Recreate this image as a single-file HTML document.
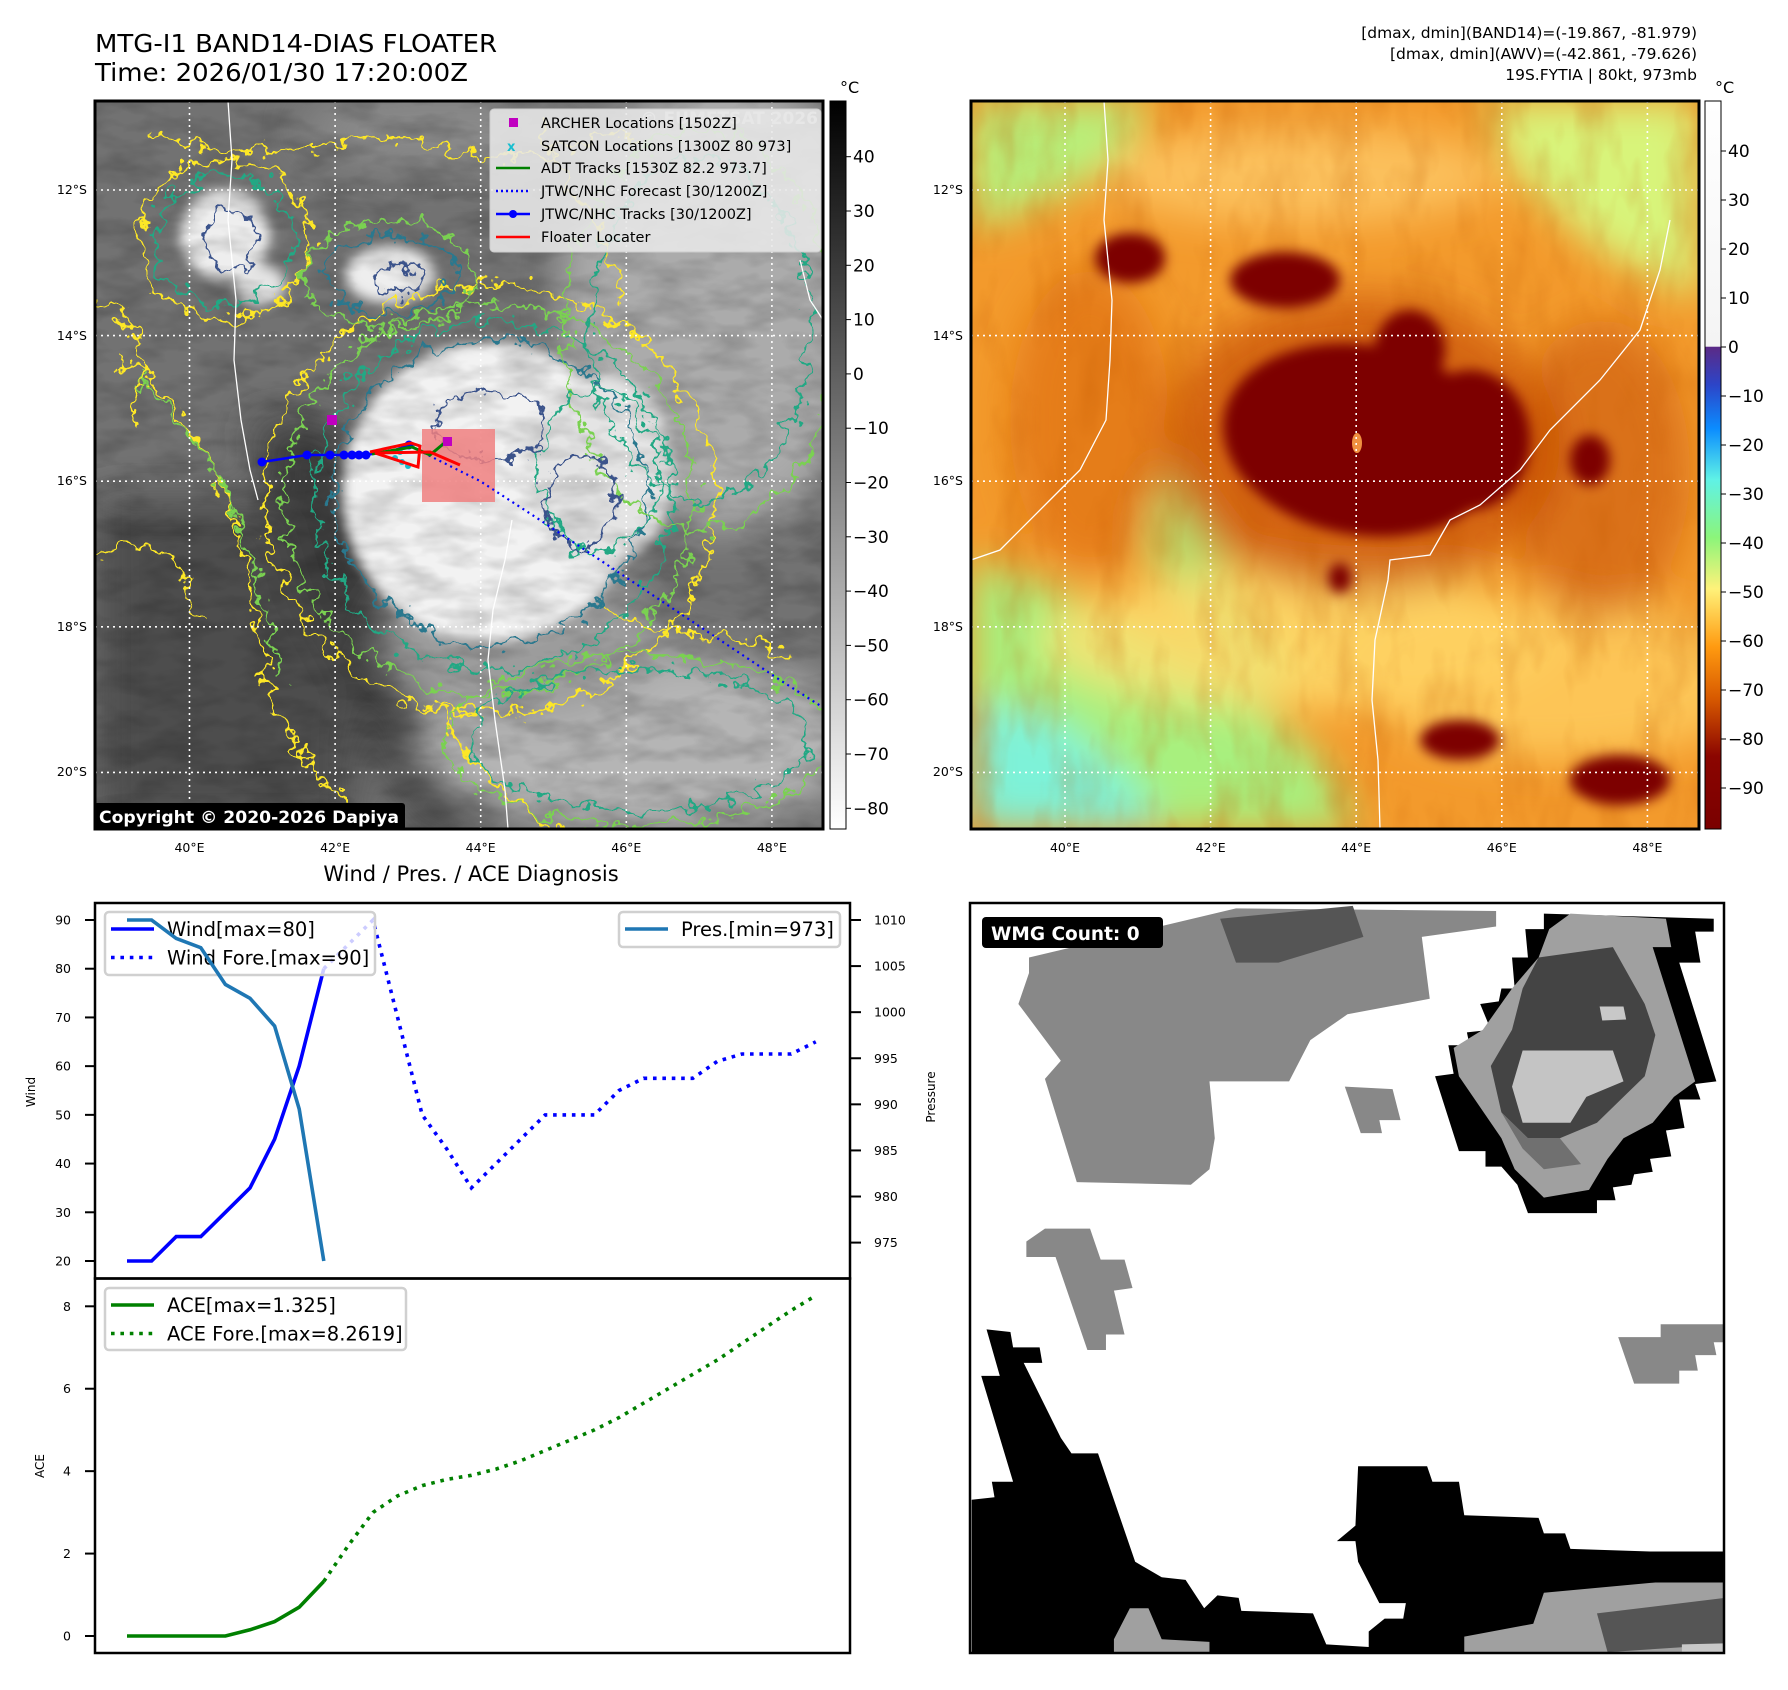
<!DOCTYPE html>
<html><head><meta charset="utf-8"><title>MTG-I1 BAND14-DIAS FLOATER</title>
<style>
html,body{margin:0;padding:0;background:#fff;}
svg{display:block;font-family:"DejaVu Sans","Liberation Sans",sans-serif;}
</style></head>
<body>
<svg id="fig" width="1788" height="1690" viewBox="0 0 1788 1690" xmlns="http://www.w3.org/2000/svg">
<defs>
  <filter id="blur6"><feGaussianBlur stdDeviation="6"/></filter>
  <filter id="blur12"><feGaussianBlur stdDeviation="12"/></filter>
  <filter id="blur20"><feGaussianBlur stdDeviation="20"/></filter>
  <filter id="wiggle"><feTurbulence type="fractalNoise" baseFrequency="0.06" numOctaves="3" seed="3" result="n"/><feDisplacementMap in="SourceGraphic" in2="n" scale="34" xChannelSelector="R" yChannelSelector="G"/></filter>
  <filter id="wiggle2"><feTurbulence type="fractalNoise" baseFrequency="0.07" numOctaves="3" seed="9" result="n"/><feDisplacementMap in="SourceGraphic" in2="n" scale="26" xChannelSelector="R" yChannelSelector="G"/></filter>
  <filter id="texture"><feTurbulence type="fractalNoise" baseFrequency="0.02 0.05" numOctaves="3" seed="5"/><feColorMatrix type="matrix" values="0 0 0 0 0  0 0 0 0 0  0 0 0 0 0  0 0 0 -1.2 0.75"/></filter>
  <filter id="texture2"><feTurbulence type="fractalNoise" baseFrequency="0.03 0.012" numOctaves="3" seed="11"/><feColorMatrix type="matrix" values="0 0 0 0 0.55  0 0 0 0 0.1  0 0 0 0 0  0 0 0 -1.6 0.9"/></filter>
  <linearGradient id="cb1" x1="0" y1="0" x2="0" y2="1"><stop offset="0" stop-color="#000"/><stop offset="1" stop-color="#fff"/></linearGradient>
  <linearGradient id="cb2" x1="0" y1="0" x2="0" y2="1">
    <stop offset="0" stop-color="#ffffff"/><stop offset="0.337" stop-color="#f4f4f4"/>
    <stop offset="0.338" stop-color="#5b2a86"/><stop offset="0.39" stop-color="#2c45c8"/>
    <stop offset="0.45" stop-color="#0b8cff"/><stop offset="0.52" stop-color="#5ff2e6"/>
    <stop offset="0.6" stop-color="#8cf57a"/><stop offset="0.67" stop-color="#fff27a"/>
    <stop offset="0.75" stop-color="#ff9a10"/><stop offset="0.82" stop-color="#d85a00"/>
    <stop offset="0.9" stop-color="#8b0500"/><stop offset="1" stop-color="#7a0000"/>
  </linearGradient>
  <clipPath id="clipL"><rect x="95" y="101" width="728" height="728"/></clipPath>
  <clipPath id="clipR"><rect x="971" y="101" width="728" height="728"/></clipPath>
  <clipPath id="clipW"><rect x="970" y="903" width="754" height="750"/></clipPath>
</defs>

<text x="95" y="52" font-size="25" textLength="402" lengthAdjust="spacingAndGlyphs">MTG-I1 BAND14-DIAS FLOATER</text>
<text x="95" y="81" font-size="25" textLength="373" lengthAdjust="spacingAndGlyphs">Time: 2026/01/30 17:20:00Z</text>
<g font-size="15.5" text-anchor="end">
  <text x="1697" y="38">[dmax, dmin](BAND14)=(-19.867, -81.979)</text>
  <text x="1697" y="59">[dmax, dmin](AWV)=(-42.861, -79.626)</text>
  <text x="1697" y="80">19S.FYTIA | 80kt, 973mb</text>
</g>

<!-- LEFT MAP -->
<g clip-path="url(#clipL)">
  <rect x="95" y="101" width="728" height="728" fill="#727272"/>
  <g filter="url(#blur20)">
    <rect x="95" y="500" width="260" height="329" fill="#4e4e4e"/>
    <polygon points="250,420 330,420 520,700 560,829 420,829 300,600" fill="#3c3c3c"/>
    <ellipse cx="720" cy="300" rx="160" ry="230" fill="#ababab"/>
    <ellipse cx="640" cy="740" rx="220" ry="90" fill="#b5b5b5"/>
    <ellipse cx="520" cy="640" rx="140" ry="80" fill="#9c9c9c"/>
    <ellipse cx="440" cy="130" rx="140" ry="40" fill="#8a8a8a"/>
  </g>
  <g filter="url(#blur6)">
    <ellipse cx="490" cy="492" rx="148" ry="150" fill="#f2f2f2"/>
    <ellipse cx="600" cy="470" rx="75" ry="95" fill="#e4e4e4"/>
    <ellipse cx="225" cy="235" rx="45" ry="45" fill="#eeeeee"/>
    <ellipse cx="390" cy="275" rx="45" ry="28" fill="#eeeeee"/>
    <ellipse cx="260" cy="285" rx="25" ry="20" fill="#e4e4e4"/>
  </g>
  <rect x="95" y="101" width="728" height="728" filter="url(#texture)" opacity="0.3"/>
  <g fill="none" filter="url(#wiggle)">
    <ellipse cx="490" cy="500" rx="225" ry="215" stroke="#fde725" stroke-width="2.5"/>
    <ellipse cx="490" cy="498" rx="205" ry="195" stroke="#7ad151" stroke-width="2.5"/>
    <ellipse cx="492" cy="495" rx="180" ry="175" stroke="#22a884" stroke-width="2.5"/>
    <ellipse cx="490" cy="492" rx="155" ry="152" stroke="#2a788e" stroke-width="2.5"/>
    <ellipse cx="225" cy="240" rx="70" ry="65" stroke="#22a884" stroke-width="2.5"/>
    <ellipse cx="225" cy="240" rx="85" ry="80" stroke="#fde725" stroke-width="2.5"/>
    <ellipse cx="390" cy="275" rx="65" ry="40" stroke="#2a788e" stroke-width="2.5"/>
    <ellipse cx="390" cy="275" rx="85" ry="55" stroke="#7ad151" stroke-width="2.5"/>
    <ellipse cx="700" cy="330" rx="110" ry="170" stroke="#22a884" stroke-width="2.5"/>
    <ellipse cx="700" cy="330" rx="135" ry="200" stroke="#7ad151" stroke-width="2.5"/>
    <ellipse cx="640" cy="740" rx="170" ry="70" stroke="#22a884" stroke-width="2.5"/>
    <ellipse cx="640" cy="740" rx="195" ry="85" stroke="#7ad151" stroke-width="2.5"/>
    <ellipse cx="600" cy="470" rx="60" ry="80" stroke="#22a884" stroke-width="2.5"/>
    <path d="M150,130 C250,180 350,120 450,150 S600,110 640,140" stroke="#fde725" stroke-width="2.5"/>
    <path d="M120,360 C200,400 240,520 260,640 S330,790 380,829" stroke="#fde725" stroke-width="2.5"/>
    <path d="M140,380 C210,430 260,560 280,680" stroke="#7ad151" stroke-width="2.5"/>
    <path d="M95,560 C150,520 180,560 200,620" stroke="#fde725" stroke-width="2.5"/>
    <path d="M430,700 C470,760 500,800 560,829" stroke="#fde725" stroke-width="2.5"/>
    <path d="M540,120 C560,200 620,230 620,300" stroke="#fde725" stroke-width="2.5"/>
    <path d="M95,300 C140,320 160,360 130,420" stroke="#fde725" stroke-width="2.5"/>
    <path d="M600,600 C650,650 720,620 800,660" stroke="#fde725" stroke-width="2.5"/>
  </g>
  <g fill="none" stroke="#3b528b" stroke-width="2.5" filter="url(#wiggle2)">
    <ellipse cx="490" cy="425" rx="55" ry="35"/>
    <ellipse cx="580" cy="500" rx="35" ry="45"/>
    <ellipse cx="230" cy="240" rx="25" ry="30"/>
    <ellipse cx="400" cy="280" rx="22" ry="15"/>
  </g>
  <g fill="none" stroke="#fff" stroke-width="1.3">
    <path d="M228,101 L232,160 L228,220 L236,300 L234,360 L241,420 L250,470 L258,500"/>
    <path d="M512,520 L505,560 L493,610 L488,660 L495,720 L505,790 L508,829"/>
    <path d="M800,260 L810,300 L823,320"/>
  </g>
  <g stroke="#fff" stroke-width="1.6" stroke-dasharray="2,4">
    <line x1="189.5" y1="101" x2="189.5" y2="829"/><line x1="335.1" y1="101" x2="335.1" y2="829"/>
    <line x1="480.7" y1="101" x2="480.7" y2="829"/><line x1="626.3" y1="101" x2="626.3" y2="829"/>
    <line x1="771.9" y1="101" x2="771.9" y2="829"/>
    <line x1="95" y1="190" x2="823" y2="190"/><line x1="95" y1="335.6" x2="823" y2="335.6"/>
    <line x1="95" y1="481.2" x2="823" y2="481.2"/><line x1="95" y1="626.8" x2="823" y2="626.8"/>
    <line x1="95" y1="772.4" x2="823" y2="772.4"/>
  </g>
  <rect x="422" y="429" width="73" height="73" fill="#f08080" opacity="0.85"/>
  <polyline points="418,450 480,481 540,520 600,560 660,600 720,640 780,680 827,710" fill="none" stroke="#0000ff" stroke-width="2.2" stroke-dasharray="2,4"/>
  <g fill="#17becf">
    <circle cx="395" cy="458" r="3"/><circle cx="402" cy="462" r="3"/><circle cx="408" cy="466" r="3"/><circle cx="400" cy="452" r="3"/><circle cx="412" cy="445" r="3"/>
  </g>
  <polyline points="262,462 307,455 330,455 344,455 352,455 359,455 366,455 372,454 395,450 409,445" fill="none" stroke="#0000ff" stroke-width="2.5"/>
  <g fill="#0000ff">
    <circle cx="262" cy="462" r="4.5"/><circle cx="307" cy="455" r="4.5"/><circle cx="330" cy="455" r="4.5"/><circle cx="344" cy="455" r="4.5"/><circle cx="352" cy="455" r="4.5"/><circle cx="359" cy="455" r="4.5"/><circle cx="366" cy="455" r="4.5"/><circle cx="409" cy="445" r="4.5"/>
  </g>
  <polyline points="372,454 412,447 430,455 448,440" fill="none" stroke="#008000" stroke-width="3"/>
  <polyline points="370,452 411,443 420,446 418,467 375,453 430,452 460,465" fill="none" stroke="#ff0000" stroke-width="3"/>
  <rect x="327" y="415" width="10" height="10" fill="#c000c0"/>
  <rect x="443" y="437" width="9" height="9" fill="#c000c0"/>
  <text x="818" y="124" font-size="17" font-weight="bold" fill="#dddddd" text-anchor="end">© EUMETSAT 2026</text>
  <g>
    <rect x="490" y="109" width="331" height="143" rx="4" fill="#e8e8e8" fill-opacity="0.88" stroke="#cccccc"/>
    <g font-size="14.5" fill="#000">
      <rect x="509" y="118" width="9" height="9" fill="#c000c0"/>
      <text x="541" y="128">ARCHER Locations [1502Z]</text>
      <text x="507" y="151" fill="#17becf" font-weight="bold" font-size="13">x</text>
      <text x="541" y="151">SATCON Locations [1300Z 80 973]</text>
      <line x1="496" y1="168" x2="530" y2="168" stroke="#008000" stroke-width="2.5"/>
      <text x="541" y="173">ADT Tracks [1530Z 82.2 973.7]</text>
      <line x1="496" y1="191" x2="530" y2="191" stroke="#0000ff" stroke-width="2.5" stroke-dasharray="2,3"/>
      <text x="541" y="196">JTWC/NHC Forecast [30/1200Z]</text>
      <line x1="496" y1="214" x2="530" y2="214" stroke="#0000ff" stroke-width="2.5"/><circle cx="513" cy="214" r="4" fill="#0000ff"/>
      <text x="541" y="219">JTWC/NHC Tracks [30/1200Z]</text>
      <line x1="496" y1="237" x2="530" y2="237" stroke="#ff0000" stroke-width="2.5"/>
      <text x="541" y="242">Floater Locater</text>
    </g>
  </g>
  <rect x="94" y="803" width="311" height="27" rx="3" fill="#000"/>
  <text x="99" y="823" font-size="17" font-weight="bold" fill="#fff" textLength="300" lengthAdjust="spacingAndGlyphs">Copyright © 2020-2026 Dapiya</text>
</g>
<rect x="95" y="101" width="728" height="728" fill="none" stroke="#000" stroke-width="3"/>

<!-- RIGHT MAP -->
<g clip-path="url(#clipR)">
  <rect x="971" y="101" width="728" height="728" fill="#f39a2c"/>
  <g filter="url(#blur20)">
    <polygon points="971,101 1150,101 1120,160 1050,200 971,230" fill="#b8f07a"/>
    <polygon points="1480,101 1699,101 1699,300 1600,250 1520,180" fill="#d8f47a"/>
    <polygon points="971,560 1080,600 1200,660 1320,760 1360,829 971,829" fill="#a8f07e"/>
    <polygon points="971,700 1060,720 1140,790 1160,829 971,829" fill="#7ef2d8"/>
    <polygon points="1160,440 1220,560 1300,680 1250,700 1150,560" fill="#a8f07e" opacity="0.8"/>
    <ellipse cx="1300" cy="640" rx="260" ry="70" fill="#ffe070" opacity="0.8"/>
    <ellipse cx="1560" cy="680" rx="200" ry="80" fill="#ffd060" opacity="0.8"/>
    <ellipse cx="1090" cy="420" rx="80" ry="150" fill="#e07010" opacity="0.7"/>
    <ellipse cx="1600" cy="470" rx="90" ry="150" fill="#d06010" opacity="0.7"/>
    <ellipse cx="1300" cy="175" rx="200" ry="50" fill="#ffd070" opacity="0.7"/>
    <ellipse cx="1360" cy="445" rx="200" ry="150" fill="#c04000" opacity="0.6"/>
  </g>
  <rect x="971" y="101" width="728" height="728" filter="url(#texture2)" opacity="0.35"/>
  <g filter="url(#blur6)" fill="#7d0000">
    <ellipse cx="1362" cy="440" rx="140" ry="95" transform="rotate(10 1362 440)"/>
    <ellipse cx="1470" cy="440" rx="60" ry="70"/>
    <ellipse cx="1410" cy="350" rx="35" ry="40"/>
    <ellipse cx="1130" cy="258" rx="35" ry="25"/>
    <ellipse cx="1285" cy="280" rx="55" ry="28"/>
    <ellipse cx="1340" cy="578" rx="12" ry="15"/>
    <ellipse cx="1460" cy="740" rx="40" ry="20"/>
    <ellipse cx="1620" cy="780" rx="50" ry="25"/>
    <ellipse cx="1590" cy="460" rx="20" ry="25"/>
  </g>
  <ellipse cx="1357" cy="443" rx="5" ry="10" fill="#f09040"/>
  <g fill="none" stroke="#fff" stroke-width="1.3">
    <path d="M1104,101 L1108,160 L1104,220 L1112,300 L1110,360 L1106,420 L1080,470 L1050,500 L1000,550 L971,560"/>
    <path d="M1380,829 L1378,760 L1372,700 L1375,640 L1388,580 L1390,560 L1430,555 L1450,520 L1480,505 L1520,470 L1550,430 L1600,380 L1640,330 L1660,270 L1670,220"/>
  </g>
  <g stroke="#fff" stroke-width="1.6" stroke-dasharray="2,4">
    <line x1="1065" y1="101" x2="1065" y2="829"/><line x1="1210.6" y1="101" x2="1210.6" y2="829"/>
    <line x1="1356.2" y1="101" x2="1356.2" y2="829"/><line x1="1501.8" y1="101" x2="1501.8" y2="829"/>
    <line x1="1647.4" y1="101" x2="1647.4" y2="829"/>
    <line x1="971" y1="190" x2="1699" y2="190"/><line x1="971" y1="335.6" x2="1699" y2="335.6"/>
    <line x1="971" y1="481.2" x2="1699" y2="481.2"/><line x1="971" y1="626.8" x2="1699" y2="626.8"/>
    <line x1="971" y1="772.4" x2="1699" y2="772.4"/>
  </g>
</g>
<rect x="971" y="101" width="728" height="728" fill="none" stroke="#000" stroke-width="3"/>

<g font-size="12.5">
  <g text-anchor="end">
    <text x="87" y="194">12°S</text><text x="87" y="340">14°S</text><text x="87" y="485">16°S</text><text x="87" y="631">18°S</text><text x="87" y="776">20°S</text>
    <text x="963" y="194">12°S</text><text x="963" y="340">14°S</text><text x="963" y="485">16°S</text><text x="963" y="631">18°S</text><text x="963" y="776">20°S</text>
  </g>
  <g text-anchor="middle">
    <text x="189.5" y="852">40°E</text><text x="335.1" y="852">42°E</text><text x="480.7" y="852">44°E</text><text x="626.3" y="852">46°E</text><text x="771.9" y="852">48°E</text>
    <text x="1065" y="852">40°E</text><text x="1210.6" y="852">42°E</text><text x="1356.2" y="852">44°E</text><text x="1501.8" y="852">46°E</text><text x="1647.4" y="852">48°E</text>
  </g>
</g>

<g>
  <rect x="830" y="101" width="16" height="728" fill="url(#cb1)" stroke="#000" stroke-width="1"/>
  <text x="840" y="93" font-size="16">°C</text>
  <g font-size="17" id="cb1labels"></g>
</g>
<g>
  <rect x="1705" y="101" width="16" height="728" fill="url(#cb2)" stroke="#000" stroke-width="1"/>
  <text x="1715" y="93" font-size="16">°C</text>
  <g font-size="17" id="cb2labels"></g>
</g>

<text x="471" y="881" font-size="21" text-anchor="middle">Wind / Pres. / ACE Diagnosis</text>
<g id="chart">
  <rect x="95" y="903" width="755" height="750" fill="#fff"/>
</g>

<g>
  <rect x="970" y="903" width="754" height="750" fill="#fff"/>
  <g clip-path="url(#clipW)">
  <g transform="translate(960,880) scale(0.5308,0.5165)">
    <polygon fill="#888" points="130,150 520,55 1010,60 1010,90 870,110 885,230 730,260 660,310 620,390 470,390 480,500 470,560 435,590 220,585 160,385 190,350 110,240 130,180"/>
    <polygon fill="#555" points="490,75 740,50 760,110 600,160 520,160"/>
    <polygon fill="#888" points="725,400 815,405 830,465 790,465 795,490 755,490"/>
    <polygon fill="#888" points="125,700 160,675 245,675 265,735 310,735 325,790 290,795 310,880 275,880 275,910 240,910 180,730 125,730"/>
    <polygon fill="#888" points="1240,885 1320,885 1320,860 1440,860 1440,895 1420,895 1425,920 1385,920 1390,950 1355,950 1355,975 1270,975"/>
    <polygon fill="#000" points="22,1200 65,1195 60,1165 100,1165 40,960 75,960 50,870 95,875 100,905 150,905 155,935 120,935 190,1080 210,1110 260,1110 330,1320 380,1350 425,1355 460,1410 485,1385 525,1390 530,1415 665,1420 690,1480 770,1485 770,1455 800,1430 835,1430 840,1400 790,1400 750,1320 745,1280 710,1280 745,1250 750,1135 880,1135 890,1165 940,1165 950,1230 1090,1235 1100,1265 1140,1265 1150,1295 1300,1300 1440,1300 1440,1500 22,1500"/>
    <polygon fill="#a0a0a0" points="1100,1380 1310,1360 1440,1360 1440,1500 950,1500 950,1465 1080,1440"/>
    <polygon fill="#555" points="1200,1420 1440,1390 1440,1480 1220,1495"/>
    <polygon fill="#c8c8c8" points="1360,1480 1440,1478 1440,1500 1360,1500"/>
    <polygon fill="#a0a0a0" points="290,1470 320,1410 355,1410 380,1470 470,1475 470,1500 290,1500"/>
    <polygon fill="#000" points="1100,65 1420,75 1420,100 1385,100 1395,160 1355,160 1425,390 1385,395 1395,425 1355,425 1365,480 1330,485 1340,535 1300,540 1305,565 1270,570 1265,590 1230,595 1235,620 1200,620 1200,645 1070,645 1050,590 1020,555 990,555 990,525 940,525 895,380 930,375 920,320 960,320 955,295 1000,290 980,240 1015,235 1020,210 1045,210 1040,150 1070,150 1065,95 1100,95"/>
    <polygon fill="#a0a0a0" points="1150,65 1330,75 1340,130 1305,130 1385,390 1345,420 1305,470 1250,500 1220,540 1185,600 1100,615 1045,560 1020,500 940,380 930,325 985,290 1040,210 1090,150 1110,95"/>
    <polygon fill="#444" points="1090,150 1230,130 1290,240 1310,300 1290,380 1250,420 1200,470 1130,500 1070,500 1020,450 1000,360 1040,290 1060,210"/>
    <polygon fill="#707070" points="1020,450 1070,500 1130,500 1170,550 1100,560 1060,520"/>
    <polygon fill="#c4c4c4" points="1060,330 1230,330 1250,390 1180,420 1150,470 1060,470 1040,400"/>
    <polygon fill="#c8c8c8" points="1205,245 1250,245 1255,270 1210,272"/>
  </g>
  </g>
  <rect x="970" y="903" width="754" height="750" fill="none" stroke="#000" stroke-width="2.5"/>
  <rect x="982" y="917" width="181" height="31" rx="4" fill="#000"/>
  <text x="991" y="940" font-size="18.5" font-weight="bold" fill="#fff">WMG Count: 0</text>
</g>

<script>
var windObs = [20, 20, 25, 25, 30, 35, 45, 60, 80];
var windFore = [80, 85, 90, 70, 50, 43, 35, 40, 45, 50, 50, 50, 55, 57.5, 57.5, 57.5, 61, 62.5, 62.5, 62.5, 65];
var presObs = [1010, 1010, 1008, 1007, 1003, 1001.5, 998.5, 989.5, 973];
var aceObs = [0, 0, 0, 0, 0, 0.15, 0.35, 0.7, 1.325];
var aceFore = [1.325, 2.2, 3.0, 3.4, 3.65, 3.8, 3.9, 4.05, 4.25, 4.5, 4.75, 5.0, 5.3, 5.65, 6.0, 6.35, 6.7, 7.1, 7.5, 7.9, 8.26];
var windTicks = [20, 30, 40, 50, 60, 70, 80, 90];
var presTicks = [975, 980, 985, 990, 995, 1000, 1005, 1010];
var aceTicks = [0, 2, 4, 6, 8];
var cb1Ticks = [40, 30, 20, 10, 0, -10, -20, -30, -40, -50, -60, -70, -80];
var cb2Ticks = [40, 30, 20, 10, 0, -10, -20, -30, -40, -50, -60, -70, -80, -90];

var NS = 'http://www.w3.org/2000/svg';
function mk(tag, attrs, parent) {
  var e = document.createElementNS(NS, tag);
  for (var k in attrs) e.setAttribute(k, attrs[k]);
  parent.appendChild(e);
  return e;
}
function xIdx(i) { return 127 + i * 24.6; }
function yWind(v) { return 1261 + (v - 20) * (920 - 1261) / 70; }
function yPres(v) { return 1242.6 + (v - 975) * (920 - 1242.6) / 35; }
function yAce(v) { return 1636 + v * (1306.3 - 1636) / 8; }
function yCb1(v) { return 156.7 + (40 - v) * 5.43; }
function yCb2(v) { return 151 + (40 - v) * 4.9; }
function minus(v) { return String(v).replace('-', '\u2212'); }

var chart = document.getElementById('chart');
function pts(arr, off, yf) { return arr.map(function (v, i) { return xIdx(i + off).toFixed(1) + ',' + yf(v).toFixed(1); }).join(' '); }

windTicks.forEach(function (t) {
  var y = yWind(t);
  var l = mk('line', {x1: 85, y1: y, x2: 95, y2: y, stroke: '#000', 'stroke-width': 2}, chart);
  
  
  var tx = mk('text', {x: 71, y: y + 4.5, 'font-size': 12.5, 'text-anchor': 'end'}, chart);
  tx.textContent = t;
  
  
});
presTicks.forEach(function (t) {
  var y = yPres(t);
  var l = mk('line', {x1: 850, y1: y, x2: 861, y2: y, stroke: '#000', 'stroke-width': 2}, chart);
  
  
  var tx = mk('text', {x: 874, y: y + 4.5, 'font-size': 12.5}, chart);
  tx.textContent = t;
  
  
});
aceTicks.forEach(function (t) {
  var y = yAce(t);
  var l = mk('line', {x1: 85, y1: y, x2: 95, y2: y, stroke: '#000', 'stroke-width': 2}, chart);
  
  
  var tx = mk('text', {x: 71, y: y + 4.5, 'font-size': 12.5, 'text-anchor': 'end'}, chart);
  tx.textContent = t;
  
  
});
var yl = mk('text', {x: 0, y: 0, 'font-size': 12, 'text-anchor': 'middle', transform: 'translate(35,1092) rotate(-90)'}, chart);
yl.textContent = 'Wind';


var pl = mk('text', {x: 0, y: 0, 'font-size': 12, 'text-anchor': 'middle', transform: 'translate(935,1097) rotate(-90)'}, chart);
pl.textContent = 'Pressure';


var al = mk('text', {x: 0, y: 0, 'font-size': 12, 'text-anchor': 'middle', transform: 'translate(44,1466) rotate(-90)'}, chart);
al.textContent = 'ACE';



function legend(x, y, w, h, items, name) {
  var g = mk('g', {}, chart);
  
  
  mk('rect', {x: x, y: y, width: w, height: h, rx: 4, fill: '#fff', 'fill-opacity': 0.8, stroke: '#d0d0d0', 'stroke-width': 2.5}, g);
  items.forEach(function (it, i) {
    var cy = y + 17 + i * 28.5;
    var ln = mk('line', {x1: x + 6, y1: cy, x2: x + 49, y2: cy, stroke: it.c, 'stroke-width': 3.6}, g);
    if (it.d) ln.setAttribute('stroke-dasharray', '3.6,5.8');
    var t = mk('text', {x: x + 62, y: cy + 7, 'font-size': 19.5}, g);
    t.textContent = it.t;
  });
}

var s1 = mk('polyline', {points: pts(windFore, windObs.length - 1, yWind), fill: 'none', stroke: '#0000ff', 'stroke-width': 3.6, 'stroke-dasharray': '3.6,5.8'}, chart);


var s2 = mk('polyline', {points: pts(windObs, 0, yWind), fill: 'none', stroke: '#0000ff', 'stroke-width': 3.6}, chart);


legend(105, 912, 270, 63, [{c: '#0000ff', t: 'Wind[max=80]'}, {c: '#0000ff', d: 1, t: 'Wind Fore.[max=90]'}], 'wind-legend');
var s3 = mk('polyline', {points: pts(presObs, 0, yPres), fill: 'none', stroke: '#1f77b4', 'stroke-width': 3.6}, chart);


legend(619, 912, 221, 35, [{c: '#1f77b4', t: 'Pres.[min=973]'}], 'pressure-legend');
var s4 = mk('polyline', {points: pts(aceFore, aceObs.length - 1, yAce), fill: 'none', stroke: '#008000', 'stroke-width': 3.6, 'stroke-dasharray': '3.6,5.8'}, chart);


var s5 = mk('polyline', {points: pts(aceObs, 0, yAce), fill: 'none', stroke: '#008000', 'stroke-width': 3.6}, chart);


legend(105, 1288, 301, 62, [{c: '#008000', t: 'ACE[max=1.325]'}, {c: '#008000', d: 1, t: 'ACE Fore.[max=8.2619]'}], 'ace-legend');

mk('rect', {x: 95, y: 903, width: 755, height: 375.5, fill: 'none', stroke: '#000', 'stroke-width': 2.5}, chart);
mk('rect', {x: 95, y: 1278.5, width: 755, height: 374.5, fill: 'none', stroke: '#000', 'stroke-width': 2.5}, chart);

var g1 = document.getElementById('cb1labels');
cb1Ticks.forEach(function (t) {
  var y = yCb1(t);
  mk('line', {x1: 846, y1: y, x2: 851, y2: y, stroke: '#000', 'stroke-width': 1}, g1);
  var tx = mk('text', {x: 853, y: y + 6}, g1);
  tx.textContent = minus(t);
  
  
});
var g2 = document.getElementById('cb2labels');
cb2Ticks.forEach(function (t) {
  var y = yCb2(t);
  mk('line', {x1: 1721, y1: y, x2: 1726, y2: y, stroke: '#000', 'stroke-width': 1}, g2);
  var tx = mk('text', {x: 1728, y: y + 6}, g2);
  tx.textContent = minus(t);
  
  
});
</script>
</svg>
</body></html>
